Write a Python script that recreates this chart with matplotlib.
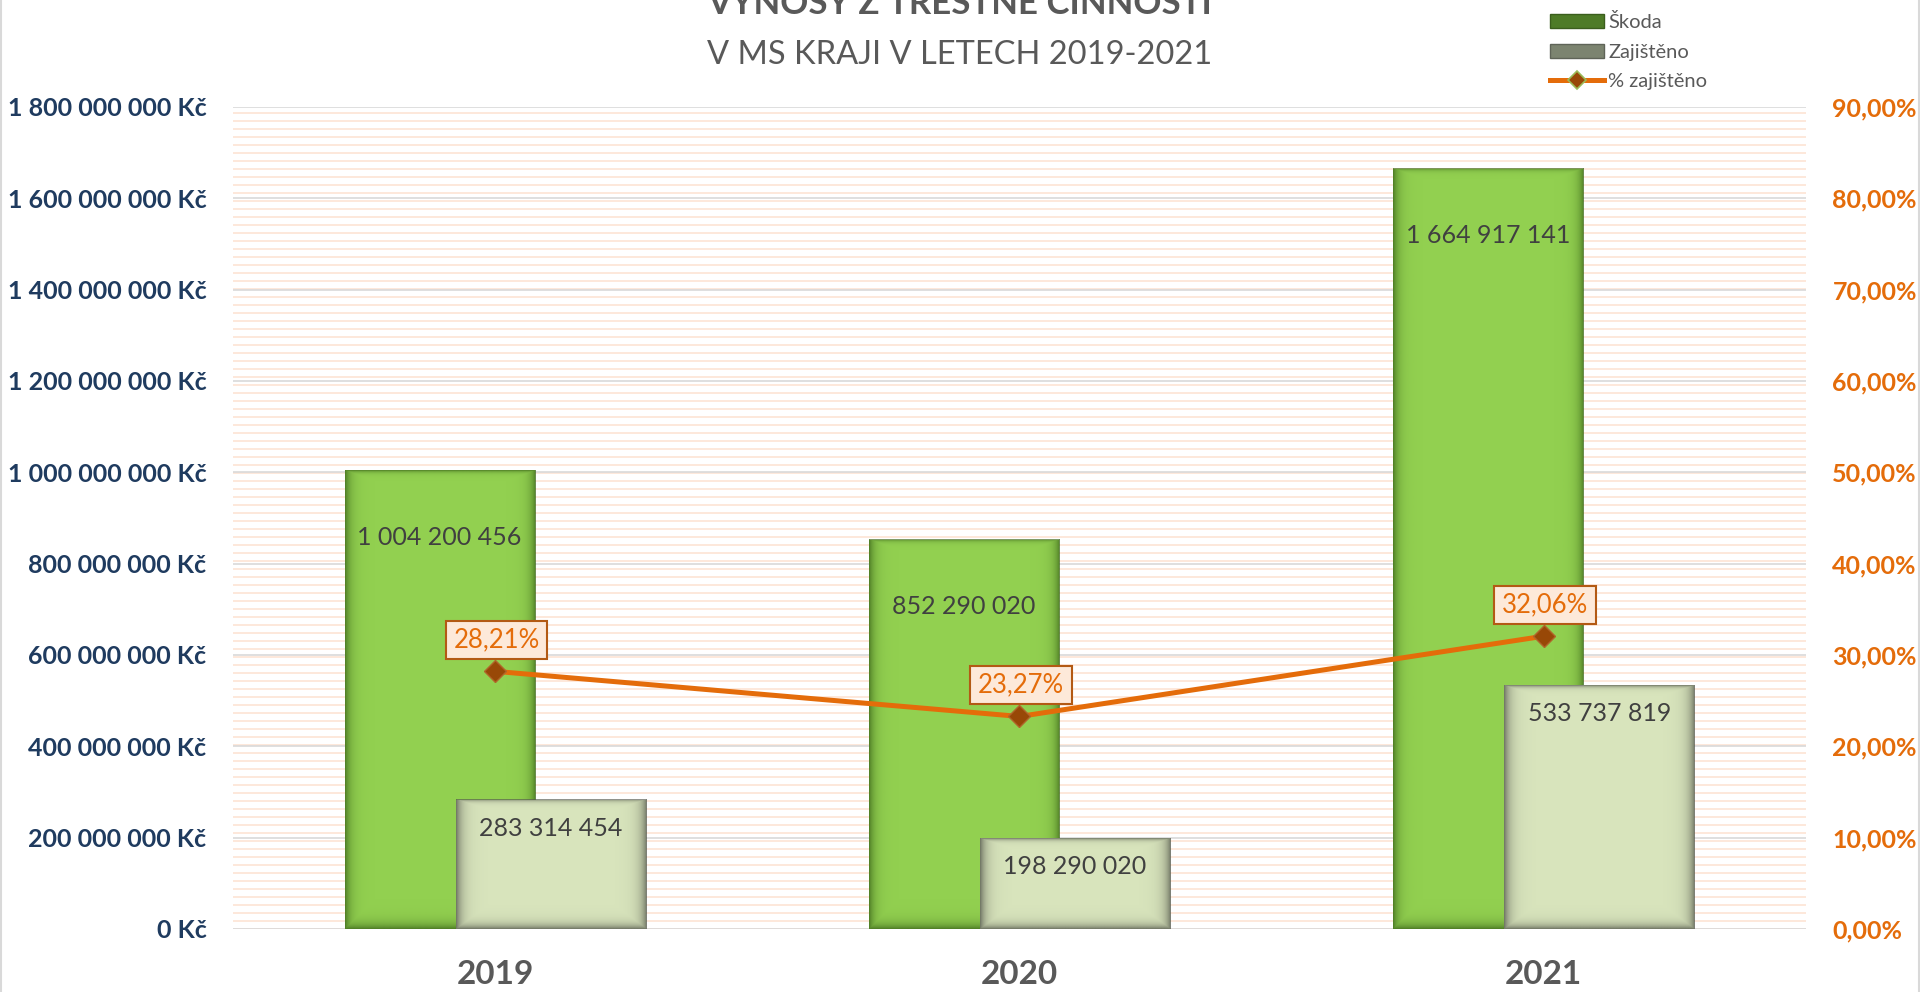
import numpy as np
import matplotlib
matplotlib.use("Agg")
import matplotlib.pyplot as plt
from matplotlib.collections import LineCollection
from matplotlib.patches import Patch
from matplotlib.lines import Line2D
from matplotlib.path import Path
from matplotlib.colors import to_rgb

plt.rcParams['font.family'] = ['Lato', 'DejaVu Sans']

# ---- data ----
years = ['2019', '2020', '2021']
skoda = [1004200456, 852290020, 1664917141]
zajisteno = [283314454, 198290020, 533737819]
pct_zajisteno = [28.21, 23.27, 32.06]
series_names = ['Škoda', 'Zajištěno', '% zajištěno']
title = 'VÝNOSY Z TRESTNÉ ČINNOSTI'
subtitle = 'V MS KRAJI V LETECH 2019-2021'

W, H = 1920, 992
fig = plt.figure(figsize=(W / 100, H / 100), dpi=100)
fig.patch.set_facecolor('white')

L, R, T, B = 233, 1806, 107, 929
ax = fig.add_axes([L / W, (H - B) / H, (R - L) / W, (B - T) / H])
ax.set_facecolor('white')
ax.set_xlim(-0.5, 2.5)
ax.set_ylim(0, 1.8e9)
ax.set_yticks(np.arange(0, 1.8e9 + 1, 2e8))
for s in ax.spines.values():
    s.set_visible(False)

# background stripe pattern
ys_px = np.arange(T + 5.7, B, 8.0)
segs = [[(0, (B - y) / (B - T)), (1, (B - y) / (B - T))] for y in ys_px]
ax.add_collection(LineCollection(segs, colors='#FDE8DA', linewidths=1.4,
                                 transform=ax.transAxes, zorder=0.2))
ax.set_axisbelow(True)
ax.yaxis.grid(True, color='#D9D9D9', linewidth=1.2, zorder=0.5)

x = np.arange(len(years))
bw = 0.3626
off = 0.106
b1 = ax.bar(x - off, skoda, width=bw, color='#92D050', zorder=2, linewidth=0)
b2 = ax.bar(x + off, zajisteno, width=bw, color='#D8E4BC', zorder=3, linewidth=0)


def shade(rect, color, w_side, w_bot, w_top, amax):
    x0, y0 = rect.get_x(), rect.get_y()
    w, h = rect.get_width(), rect.get_height()
    p0 = ax.transData.transform((x0, y0))
    p1 = ax.transData.transform((x0 + w, y0 + h))
    nx = max(int(round(p1[0] - p0[0])), 2)
    ny = max(int(round(p1[1] - p0[1])), 2)
    X, Y = np.meshgrid(np.arange(nx) + 0.5, np.arange(ny) + 0.5)
    a = np.maximum.reduce([np.exp(-X / w_side), np.exp(-(nx - X) / w_side),
                           np.exp(-Y / w_bot), np.exp(-(ny - Y) / w_top)]) * amax
    rgba = np.zeros((ny, nx, 4))
    rgba[..., :3] = to_rgb(color)
    rgba[..., 3] = a
    ax.imshow(rgba, extent=(x0, x0 + w, y0, y0 + h), origin='lower',
              aspect='auto', interpolation='bilinear', zorder=rect.get_zorder() + 0.01)


for r in b1:
    shade(r, '#3F6A1C', 5.5, 5.5, 2.0, 0.85)
for r in b2:
    shade(r, '#585C50', 6.0, 4.5, 2.0, 0.85)
ax.set_xlim(-0.5, 2.5)
ax.set_ylim(0, 1.8e9)

# bar value labels
def fmt_num(v):
    return f"{int(v):,}".replace(',', ' ')

for r, v in zip(b1, skoda):
    ax.annotate(fmt_num(v), (r.get_x() + r.get_width() / 2, v), xytext=(0, -48),
                textcoords='offset points', ha='center', va='center',
                fontsize=18, color='#404040', zorder=5)
for r, v in zip(b2, zajisteno):
    ax.annotate(fmt_num(v), (r.get_x() + r.get_width() / 2, v), xytext=(0, -20.5),
                textcoords='offset points', ha='center', va='center',
                fontsize=18, color='#404040', zorder=5)

# axes ticks
ax.set_yticklabels([fmt_num(v) + ' Kč' for v in ax.get_yticks()],
                   fontsize=18, fontweight='bold', color='#1F3B5F')
ax.set_xticks(x)
ax.set_xticklabels(years, fontsize=24, fontweight='bold', color='#595959')
ax.tick_params(axis='y', length=0, pad=19)
ax.tick_params(axis='x', length=0, pad=22)

# secondary axis
ax2 = ax.twinx()
ax2.set_ylim(0, 90)
ax2.set_yticks(np.arange(0, 91, 10))
ax2.set_yticklabels([f"{v:.2f}%".replace('.', ',') for v in ax2.get_yticks()],
                    fontsize=18, fontweight='bold', color='#E46C0A')
ax2.tick_params(axis='y', length=0, pad=19)
for s in ax2.spines.values():
    s.set_visible(False)
ax2.plot(x, pct_zajisteno, color='#E46C0A', linewidth=3.6, marker='D',
         markersize=11, markerfacecolor='#984807', markeredgecolor='#B0652A',
         markeredgewidth=1.0, zorder=5)


def label_box(x0, y0, width, height, mutation_size):
    px, py = 0.30 * mutation_size, 0.26 * mutation_size
    xa, ya = x0 - px, y0 - py
    xb, yb = x0 + width + px, y0 + height + py
    return Path([(xa, ya), (xb, ya), (xb, yb), (xa, yb), (xa, ya)],
                [Path.MOVETO, Path.LINETO, Path.LINETO, Path.LINETO, Path.CLOSEPOLY])


for xi, v in zip(x, pct_zajisteno):
    ax2.annotate(f"{v:.2f}%".replace('.', ','), (xi, v), xytext=(1, 22.5),
                 textcoords='offset points', ha='center', va='center',
                 fontsize=18.5, color='#E46C0A', zorder=6,
                 bbox=dict(boxstyle=label_box, fc='#FDE9D9', ec='#B35A14', lw=1.5))

# titles
fig.text(960 / W, 1 - 14 / H, title, ha='center', va='baseline', fontsize=25,
         fontweight='bold', color='#595959')
fig.text(960 / W, 1 - 64 / H, subtitle, ha='center', va='baseline', fontsize=23.5,
         color='#595959')

# legend
handles = [Patch(facecolor='#4E7B27', edgecolor='#3B5E1D', label=series_names[0]),
           Patch(facecolor='#7C8470', edgecolor='#5F6458', label=series_names[1]),
           Line2D([0], [0], color='#E46C0A', lw=3.6, marker='D', markersize=9,
                  markerfacecolor='#984807', markeredgecolor='#9BBB59',
                  markeredgewidth=1.2, label=series_names[2])]
leg = fig.legend(handles=handles, loc='upper left',
                 bbox_to_anchor=(1546 / W, 1 - 9 / H), frameon=False,
                 fontsize=14.5, labelcolor='#595959', handlelength=2.7,
                 handleheight=0.7, handletextpad=0.2, labelspacing=0.62,
                 borderaxespad=0, borderpad=0.2)

# chart border (left/right)
fig.add_artist(Line2D([0.5 / W, 0.5 / W], [0, 1], color='#D9D9D9', lw=1.5,
                      transform=fig.transFigure))
fig.add_artist(Line2D([1 - 1.5 / W, 1 - 1.5 / W], [0, 1], color='#D9D9D9', lw=1.5,
                      transform=fig.transFigure))

fig.savefig('out.png', dpi=100, facecolor='white')
